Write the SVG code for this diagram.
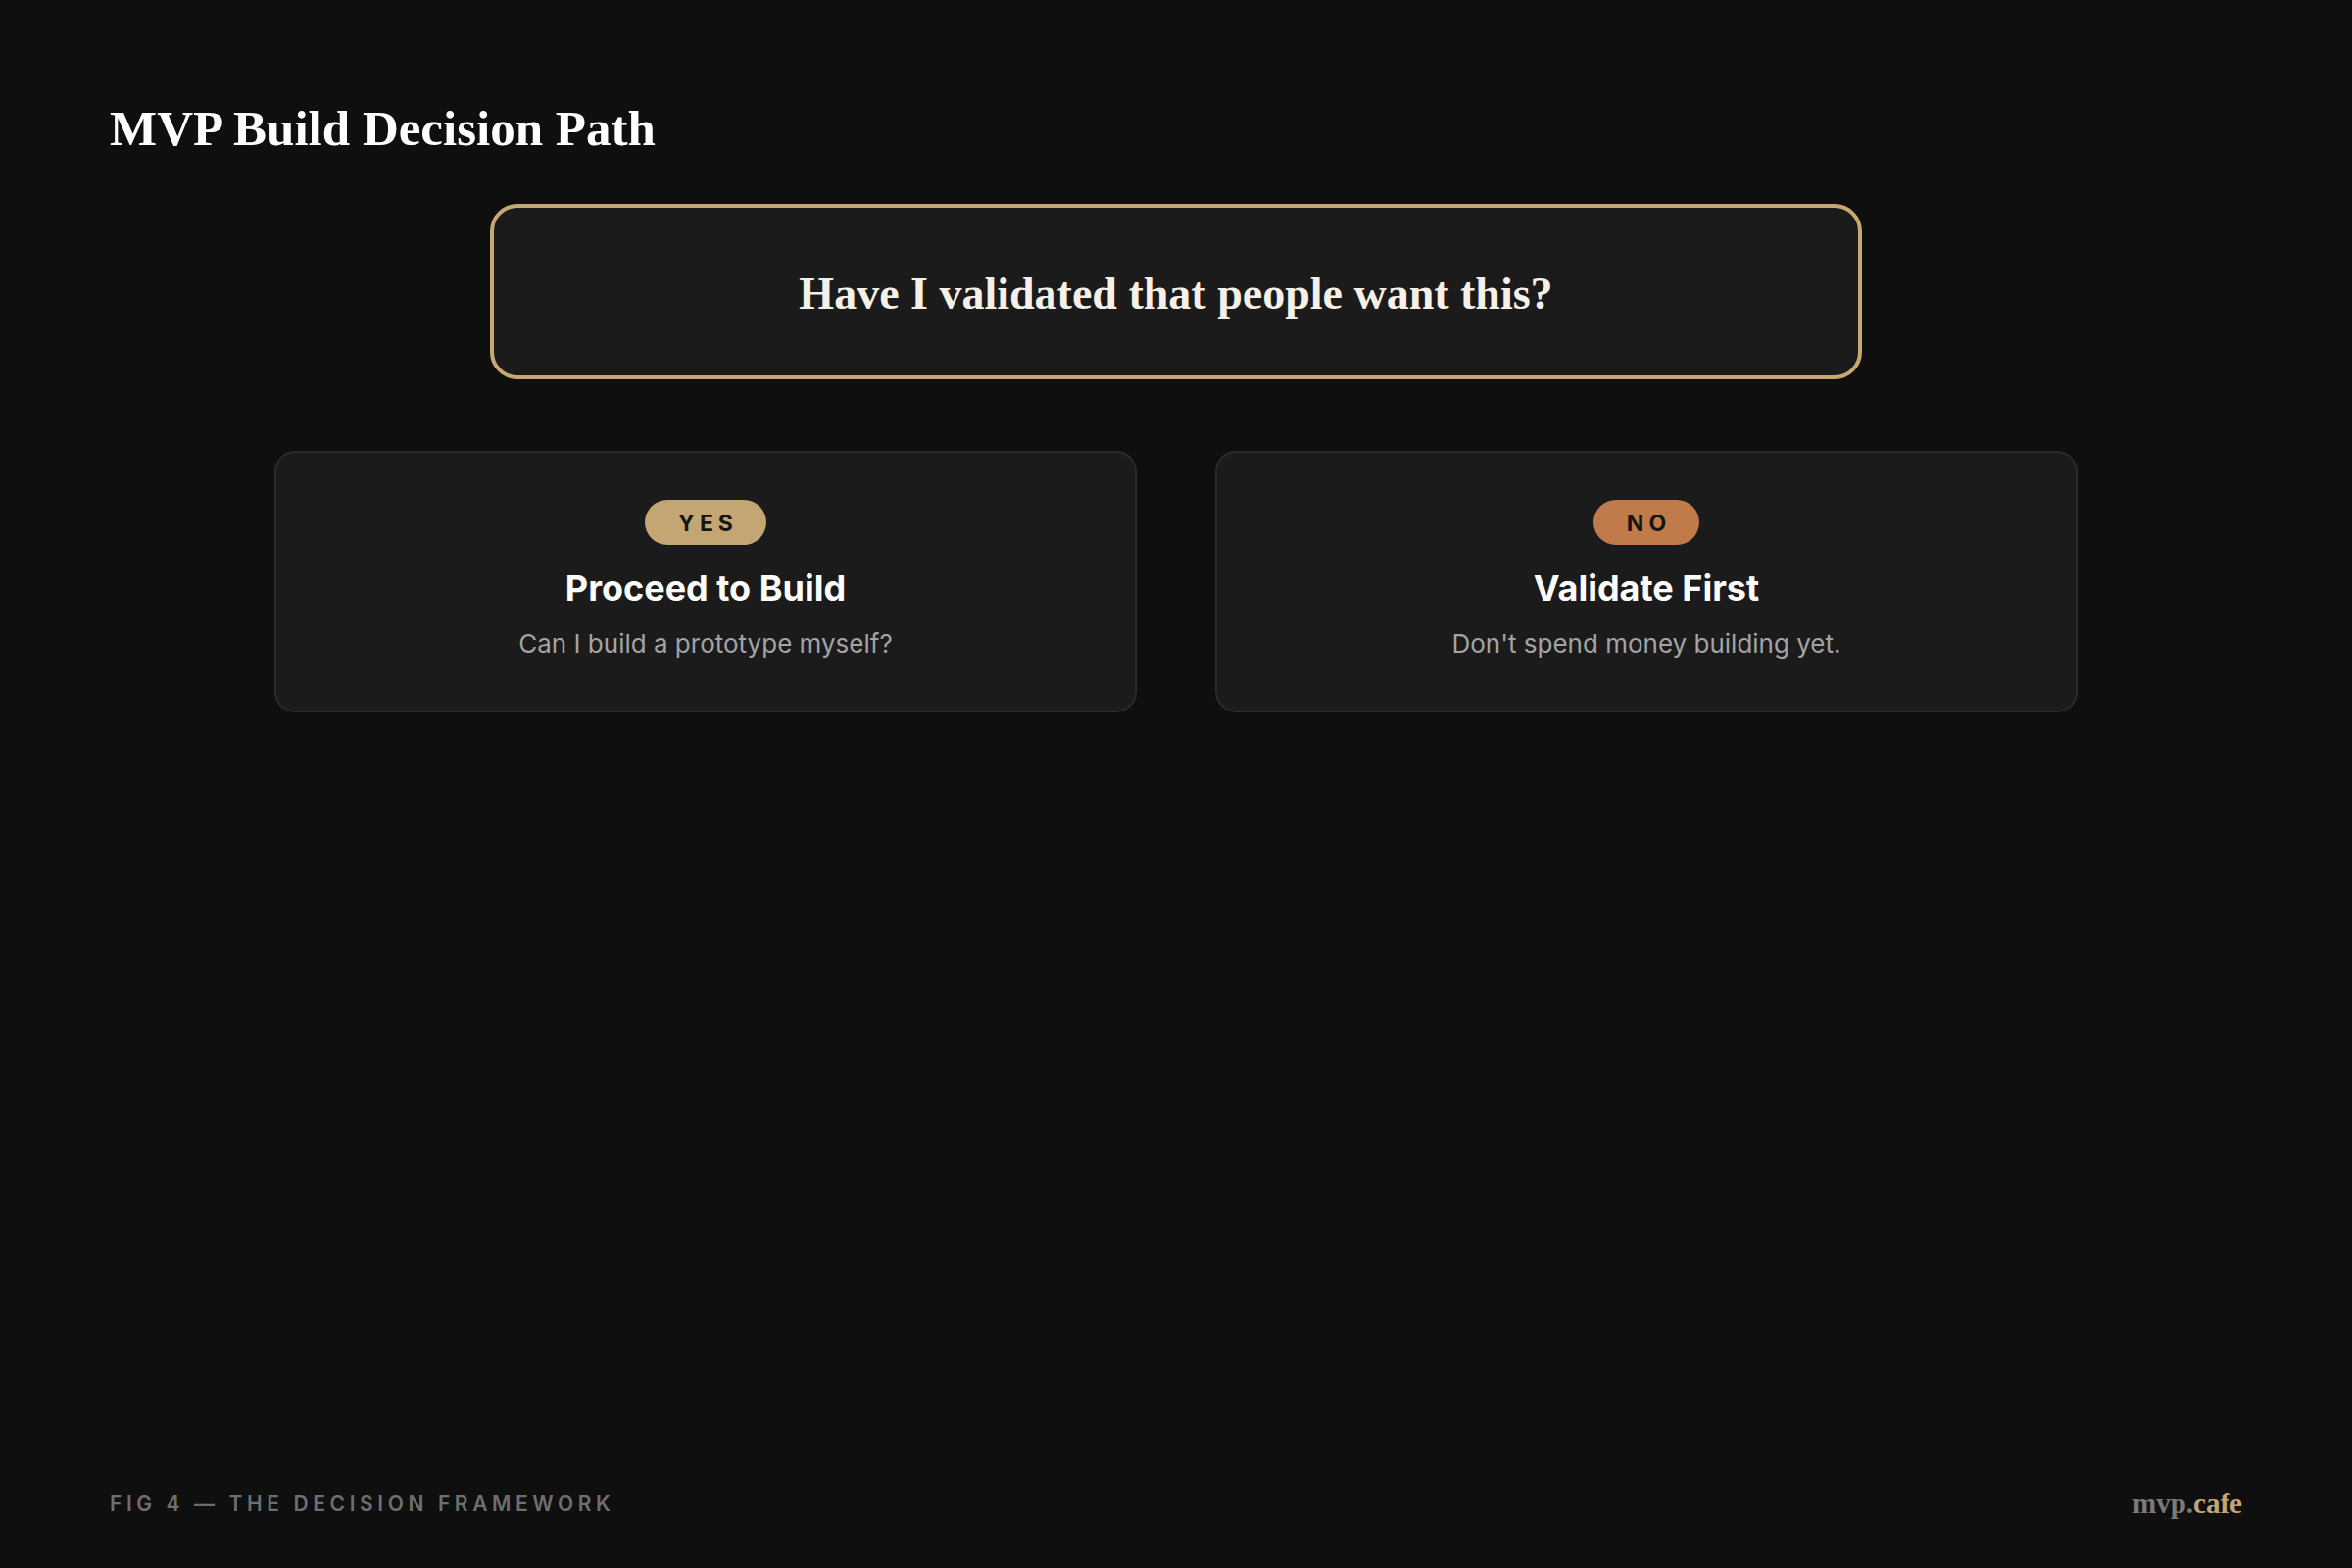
<svg xmlns="http://www.w3.org/2000/svg" width="2400" height="1600" viewBox="0 0 2400 1600">
  <style>
    .serif { font-family: "Liberation Serif", "DejaVu Serif", serif; font-weight: 700; }
    .sans { font-family: Inter, "Noto Sans", "Liberation Sans", sans-serif; }
    .card { fill: #1b1b1b; stroke: #2b2b2b; stroke-width: 2; }
    .pill-text { font-family: Inter, "Liberation Sans", sans-serif; font-weight: 700; font-size: 23px; letter-spacing: 5px; fill: #151515; text-anchor: middle; }
    .card-title { font-family: Inter, "Liberation Sans", sans-serif; font-weight: 700; font-size: 36px; fill: #ffffff; text-anchor: middle; }
    .card-sub { font-family: Inter, "Liberation Sans", sans-serif; font-weight: 400; font-size: 26px; fill: #a3a3a3; text-anchor: middle; }
  </style>
  <rect x="0" y="0" width="2400" height="1600" fill="#0f0f0f"/>

  <g id="title">
    <text class="serif" x="112" y="148" font-size="51" fill="#ffffff">MVP Build Decision Path</text>
  </g>

  <g id="question">
    <rect x="502" y="210" width="1396" height="175" rx="26" ry="26" fill="#1b1b1b" stroke="#c8a872" stroke-width="4"/>
    <text class="serif" x="1200" y="315" font-size="46" fill="#f5f0e8" text-anchor="middle">Have I validated that people want this?</text>
  </g>

  <g id="connectors"></g>

  <g id="yes-node">
    <rect class="card" x="281" y="461" width="878" height="265" rx="20" ry="20"/>
    <rect x="658" y="510" width="124" height="46" rx="23" ry="23" fill="#c4a574"/>
    <text class="pill-text" x="722.5" y="541.5">YES</text>
    <text class="card-title" x="720" y="613">Proceed to Build</text>
    <text class="card-sub" x="720" y="666">Can I build a prototype myself?</text>
  </g>

  <g id="no-node">
    <rect class="card" x="1241" y="461" width="878" height="265" rx="20" ry="20"/>
    <rect x="1626" y="510" width="108" height="46" rx="23" ry="23" fill="#c17a4a"/>
    <text class="pill-text" x="1682.5" y="541.5">NO</text>
    <text class="card-title" x="1680" y="613">Validate First</text>
    <text class="card-sub" x="1680" y="666">Don't spend money building yet.</text>
  </g>

  <g id="footer">
    <text class="sans" x="112" y="1542" font-size="21" font-weight="600" letter-spacing="4.6" fill="#6e6e6e">FIG 4 — THE DECISION FRAMEWORK</text>
    <text class="serif" x="2288" y="1544" font-size="29" text-anchor="end"><tspan fill="#7a7a7a">mvp.</tspan><tspan fill="#c4a574">cafe</tspan></text>
  </g>
</svg>
